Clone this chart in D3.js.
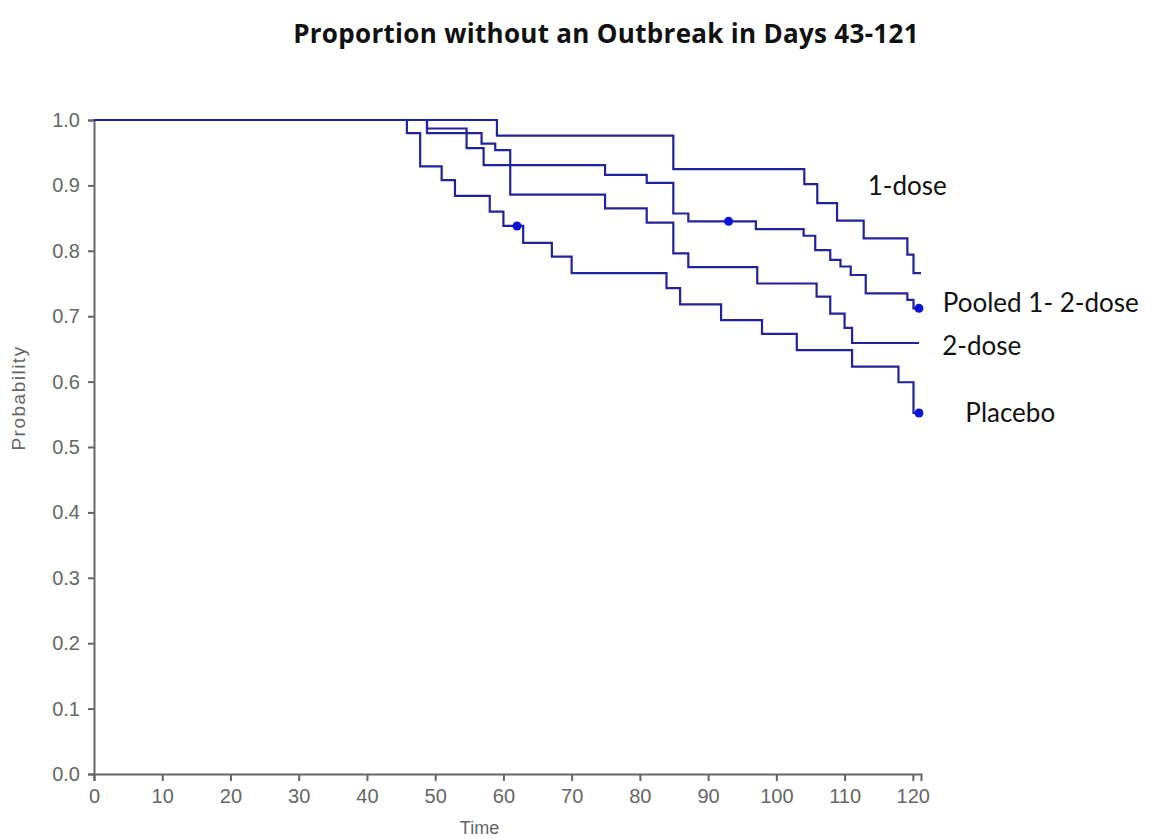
<!DOCTYPE html>
<html>
<head>
<meta charset="utf-8">
<script src="https://cdn.jsdelivr.net/npm/d3@7"></script>
<style>
  body { margin: 0; background: #fff; }
  .axis path, .axis line { stroke: #666; stroke-width: 2px; }
  .axis text { fill: #666; font-family: "Liberation Sans", Arial, sans-serif; font-size: 20px; }
  .curve { fill: none; stroke: #22229c; stroke-width: 2.2px; }
  .censor { fill: #0a14d8; }
  .label { font-family: Lato, "Open Sans", sans-serif; font-size: 26px; fill: #111; }
</style>
</head>
<body>
<svg id="chart" width="1152" height="839"></svg>
<script>
var WIDTH = 1152, HEIGHT = 839;
var MARGIN = {left: 94, right: 231, top: 120, bottom: 65};

var xTicks = [0, 10, 20, 30, 40, 50, 60, 70, 80, 90, 100, 110, 120];
var yTicks = [0, 0.1, 0.2, 0.3, 0.4, 0.5, 0.6, 0.7, 0.8, 0.9, 1.0];
var timeMax = 121.2;

// step points: [time, probability after the drop]
var oneDose = [[0, 1], [59.05, 0.976], [84.9, 0.925], [104.1, 0.902], [106.0, 0.873],
    [108.9, 0.846], [112.8, 0.819], [119.2, 0.794], [120.1, 0.766], [121.2, 0.766]];
var pooled = [[0, 1], [48.8, 0.987], [54.6, 0.957], [57.1, 0.931], [74.9, 0.916],
    [81.0, 0.904], [84.9, 0.857], [87.1, 0.845], [97.0, 0.833], [104.0, 0.823],
    [105.7, 0.801], [107.9, 0.786], [109.4, 0.776], [110.9, 0.763], [113.1, 0.735],
    [119.2, 0.725], [120.1, 0.712], [120.9, 0.712]];
var twoDose = [[0, 1], [48.8, 0.98], [56.8, 0.964], [58.8, 0.954], [61.0, 0.886],
    [74.9, 0.865], [81.0, 0.843], [84.9, 0.796], [87.1, 0.775], [97.2, 0.75],
    [105.9, 0.73], [107.9, 0.704], [110.0, 0.682], [111.1, 0.659], [120.9, 0.659]];
var placebo = [[0, 1], [45.85, 0.98], [47.8, 0.929], [50.95, 0.908], [52.9, 0.884],
    [58.0, 0.86], [60.0, 0.838], [62.9, 0.812], [67.1, 0.791], [70.0, 0.766],
    [83.9, 0.743], [85.9, 0.718], [91.9, 0.694], [97.9, 0.673], [103.0, 0.648],
    [111.1, 0.623], [117.9, 0.599], [120.1, 0.552], [120.9, 0.552]];

// censored observations marked with a dot
var censored = [[62.0, 0.838], [93.0, 0.845], [120.9, 0.712], [120.9, 0.552]];

var seriesNames = ["1-dose", "Pooled 1- 2-dose", "2-dose", "Placebo"];
var seriesData = [oneDose, pooled, twoDose, placebo];
// where each name sits, in data units
var labelAt = [[113.4, 0.9], [124.4, 0.72], [124.3, 0.654], [127.7, 0.552]];

var svg = d3.select("#chart");

var xScale = d3.scaleLinear().domain([0, timeMax])
    .range([MARGIN.left, WIDTH - MARGIN.right]);
var yScale = d3.scaleLinear().domain([0, 1])
    .range([HEIGHT - MARGIN.bottom, MARGIN.top]);

svg.append("text")
    .attr("x", 606).attr("y", 43)
    .attr("text-anchor", "middle")
    .style("font-family", "'Open Sans', sans-serif")
    .style("font-weight", "bold")
    .style("font-size", "26px")
    .style("letter-spacing", "0.3px")
    .style("fill", "#111")
    .text("Proportion without an Outbreak in Days 43-121");

svg.append("g")
    .attr("class", "axis")
    .attr("transform", "translate(0," + yScale(0) + ")")
    .call(d3.axisBottom(xScale).tickValues(xTicks).tickSize(7).tickPadding(8)
        .tickFormat(d3.format("d")));

svg.append("g")
    .attr("class", "axis")
    .attr("transform", "translate(" + xScale(0) + ",0)")
    .call(d3.axisLeft(yScale).tickValues(yTicks).tickSize(6).tickPadding(8)
        .tickFormat(d3.format(".1f")));

svg.append("text")
    .attr("x", xScale(56.5)).attr("y", 834)
    .attr("text-anchor", "middle")
    .style("font-family", "'Liberation Sans', Arial, sans-serif")
    .style("font-size", "18px").style("fill", "#666")
    .text("Time");

svg.append("text")
    .attr("transform", "translate(25," + yScale(0.575) + ") rotate(-90)")
    .attr("text-anchor", "middle")
    .style("font-family", "'Liberation Sans', Arial, sans-serif")
    .style("font-size", "19px").style("letter-spacing", "1.5px").style("fill", "#666")
    .text("Probability");

var line = d3.line()
    .x(function(d){ return xScale(d[0]); })
    .y(function(d){ return yScale(d[1]); })
    .curve(d3.curveStepAfter);

svg.selectAll(".curve")
    .data(seriesData)
    .enter().append("path")
    .attr("class", "curve")
    .attr("d", line);

svg.selectAll(".censor")
    .data(censored)
    .enter().append("circle")
    .attr("class", "censor")
    .attr("r", 4.5)
    .attr("cx", function(d){ return xScale(d[0]); })
    .attr("cy", function(d){ return yScale(d[1]); });

svg.selectAll(".label")
    .data(seriesNames)
    .enter().append("text")
    .attr("class", "label")
    .attr("x", function(d, i){ return xScale(labelAt[i][0]); })
    .attr("y", function(d, i){ return yScale(labelAt[i][1]); })
    .attr("dy", "0.35em")
    .text(function(d){ return d; });
</script>
</body>
</html>
